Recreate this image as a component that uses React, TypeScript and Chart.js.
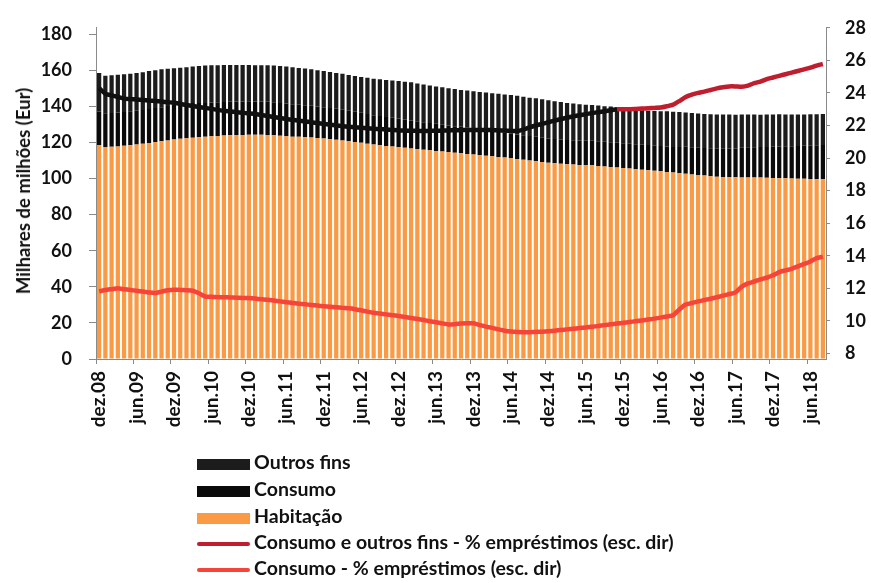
import React, { useEffect, useRef } from "react";
import { Chart, registerables } from "chart.js";

Chart.register(...registerables);

const categories: string[] = [
  "dez.08",
  "jan.09", "fev.09", "mar.09", "abr.09", "mai.09", "jun.09", "jul.09", "ago.09", "set.09", "out.09", "nov.09", "dez.09",
  "jan.10", "fev.10", "mar.10", "abr.10", "mai.10", "jun.10", "jul.10", "ago.10", "set.10", "out.10", "nov.10", "dez.10",
  "jan.11", "fev.11", "mar.11", "abr.11", "mai.11", "jun.11", "jul.11", "ago.11", "set.11", "out.11", "nov.11", "dez.11",
  "jan.12", "fev.12", "mar.12", "abr.12", "mai.12", "jun.12", "jul.12", "ago.12", "set.12", "out.12", "nov.12", "dez.12",
  "jan.13", "fev.13", "mar.13", "abr.13", "mai.13", "jun.13", "jul.13", "ago.13", "set.13", "out.13", "nov.13", "dez.13",
  "jan.14", "fev.14", "mar.14", "abr.14", "mai.14", "jun.14", "jul.14", "ago.14", "set.14", "out.14", "nov.14", "dez.14",
  "jan.15", "fev.15", "mar.15", "abr.15", "mai.15", "jun.15", "jul.15", "ago.15", "set.15", "out.15", "nov.15", "dez.15",
  "jan.16", "fev.16", "mar.16", "abr.16", "mai.16", "jun.16", "jul.16", "ago.16", "set.16", "out.16", "nov.16", "dez.16",
  "jan.17", "fev.17", "mar.17", "abr.17", "mai.17", "jun.17", "jul.17", "ago.17", "set.17", "out.17", "nov.17", "dez.17",
  "jan.18", "fev.18", "mar.18", "abr.18", "mai.18", "jun.18", "jul.18", "ago.18",
];

// Habitação (mil milhões EUR)
const habitacao: number[] = [
  118.4, 117.5, 117.6, 117.8, 118.1, 118.4, 118.8, 119.2, 119.7, 120.2,
  120.6, 121.1, 121.6, 122.0, 122.3, 122.6, 122.9, 123.2, 123.4, 123.6,
  123.8, 123.9, 124.1, 124.1, 124.2, 124.2, 124.2, 124.1, 123.9, 123.7,
  123.4, 123.2, 123.1, 122.9, 122.7, 122.4, 122.1, 121.8, 121.5, 121.1,
  120.6, 120.2, 119.8, 119.3, 118.8, 118.4, 118.0, 117.7, 117.3, 117.0,
  116.6, 116.3, 115.9, 115.6, 115.3, 115.0, 114.7, 114.3, 114.0, 113.6,
  113.3, 113.0, 112.6, 112.3, 111.9, 111.6, 111.2, 110.8, 110.4, 110.0,
  109.6, 109.2, 108.8, 108.5, 108.2, 107.9, 107.7, 107.5, 107.4, 107.3,
  107.0, 106.7, 106.4, 106.1, 105.8, 105.5, 105.2, 104.9, 104.6, 104.3,
  104.0, 103.6, 103.3, 102.9, 102.6, 102.2, 101.9, 101.6, 101.3, 101.0,
  100.9, 100.8, 100.7, 100.6, 100.6, 100.5, 100.5, 100.4, 100.3, 100.2,
  100.1, 100.0, 99.9, 99.8, 99.7, 99.6, 99.6,
];

// Consumo (mil milhões EUR)
const consumo: number[] = [
  18.7, 18.6, 18.7, 18.8, 18.8, 18.8, 18.8, 18.8, 18.8, 18.8,
  18.9, 19.1, 19.2, 19.2, 19.2, 19.2, 19.0, 18.7, 18.7, 18.7,
  18.6, 18.6, 18.6, 18.6, 18.6, 18.5, 18.4, 18.4, 18.3, 18.2,
  18.1, 17.9, 17.8, 17.7, 17.6, 17.5, 17.4, 17.3, 17.2, 17.0,
  16.9, 16.8, 16.6, 16.5, 16.3, 16.2, 16.1, 16.0, 15.9, 15.7,
  15.6, 15.4, 15.3, 15.1, 15.0, 14.8, 14.7, 14.7, 14.7, 14.7,
  14.6, 14.4, 14.2, 14.1, 13.9, 13.8, 13.7, 13.6, 13.5, 13.5,
  13.5, 13.4, 13.4, 13.4, 13.4, 13.5, 13.5, 13.5, 13.5, 13.6,
  13.6, 13.6, 13.7, 13.7, 13.7, 13.7, 13.8, 13.8, 13.9, 13.9,
  14.0, 14.1, 14.2, 14.6, 15.0, 15.1, 15.2, 15.3, 15.4, 15.5,
  15.6, 15.8, 15.9, 16.4, 16.7, 16.8, 17.0, 17.1, 17.3, 17.6,
  17.8, 17.9, 18.1, 18.3, 18.5, 18.8, 18.9,
];

const totalEmprestimos: number[] = [
  158.5, 157.0, 157.2, 157.5, 157.8, 158.0, 158.4, 158.9, 159.5, 160.0,
  160.5, 160.8, 161.1, 161.4, 161.7, 162.0, 162.3, 162.6, 162.8, 162.8,
  162.9, 162.9, 162.9, 162.9, 162.9, 162.8, 162.8, 162.7, 162.6, 162.3,
  162.0, 161.6, 161.2, 160.9, 160.5, 160.0, 159.5, 159.0, 158.5, 158.0,
  157.4, 156.8, 156.3, 155.8, 155.3, 155.0, 154.6, 154.3, 154.0, 153.6,
  153.3, 152.7, 152.1, 151.5, 151.0, 150.5, 150.0, 149.6, 149.1, 148.7,
  148.3, 147.9, 147.6, 147.3, 146.9, 146.6, 146.2, 145.8, 145.3, 144.8,
  144.4, 143.9, 143.3, 142.8, 142.4, 141.9, 141.5, 141.2, 140.9, 140.7,
  140.4, 140.1, 139.9, 139.3, 138.7, 138.2, 138.0, 137.8, 137.6, 137.4,
  137.3, 137.2, 137.0, 136.8, 136.6, 136.3, 136.0, 135.8, 135.6, 135.5,
  135.5, 135.4, 135.3, 135.4, 135.5, 135.4, 135.3, 135.4, 135.5, 135.6,
  135.5, 135.4, 135.4, 135.5, 135.6, 135.6, 135.7,
];

// Consumo e outros fins - % empréstimos (escala direita)
const consumoOutrosPct: number[] = [
  24.3, 23.95, 23.85, 23.75, 23.65, 23.62, 23.6, 23.57, 23.53, 23.5,
  23.47, 23.43, 23.4, 23.33, 23.26, 23.2, 23.14, 23.08, 23.02, 22.96,
  22.9, 22.86, 22.82, 22.78, 22.74, 22.7, 22.64, 22.58, 22.52, 22.46,
  22.4, 22.35, 22.3, 22.25, 22.2, 22.15, 22.1, 22.05, 22.0, 21.96,
  21.92, 21.89, 21.86, 21.83, 21.8, 21.78, 21.76, 21.73, 21.7, 21.69,
  21.68, 21.67, 21.67, 21.67, 21.68, 21.69, 21.7, 21.71, 21.72, 21.72,
  21.72, 21.72, 21.72, 21.72, 21.71, 21.69, 21.67, 21.66, 21.75, 21.88,
  22.0, 22.1, 22.2, 22.3, 22.4, 22.48, 22.56, 22.63, 22.7, 22.76,
  22.82, 22.88, 22.94, 23.0, 23.0, 23.0, 23.02, 23.04, 23.06, 23.08,
  23.1, 23.18, 23.28, 23.5, 23.75, 23.9, 24.0, 24.08, 24.18, 24.28,
  24.35, 24.4, 24.4, 24.38, 24.45, 24.6, 24.7, 24.85, 24.95, 25.05,
  25.15, 25.25, 25.35, 25.45, 25.55, 25.68, 25.78,
];

// Consumo - % empréstimos (escala direita)
const consumoPct: number[] = [
  11.82, 11.9, 11.95, 12.0, 11.95, 11.9, 11.85, 11.8, 11.75, 11.72,
  11.8, 11.88, 11.92, 11.9, 11.88, 11.85, 11.7, 11.5, 11.48, 11.46,
  11.45, 11.44, 11.42, 11.41, 11.4, 11.37, 11.33, 11.3, 11.25, 11.2,
  11.15, 11.1, 11.06, 11.02, 10.98, 10.94, 10.9, 10.87, 10.84, 10.8,
  10.77, 10.72, 10.65, 10.57, 10.5, 10.45, 10.4, 10.35, 10.3, 10.24,
  10.18, 10.12, 10.05, 9.98, 9.92, 9.85, 9.78, 9.8, 9.84, 9.86,
  9.85, 9.75, 9.65, 9.57, 9.48, 9.4, 9.35, 9.32, 9.31, 9.31,
  9.32, 9.34, 9.37, 9.4, 9.44, 9.48, 9.52, 9.56, 9.6, 9.64,
  9.69, 9.74, 9.79, 9.84, 9.88, 9.93, 9.98, 10.03, 10.08, 10.14,
  10.2, 10.27, 10.35, 10.7, 11.0, 11.1, 11.2, 11.28, 11.36, 11.45,
  11.55, 11.65, 11.75, 12.1, 12.3, 12.42, 12.55, 12.65, 12.8, 13.0,
  13.1, 13.2, 13.35, 13.5, 13.65, 13.85, 13.95,
];

const seriesNames = [
  "Outros fins",
  "Consumo",
  "Habitação",
  "Consumo e outros fins - % empréstimos (esc. dir)",
  "Consumo - % empréstimos (esc. dir)",
];

const leftTitle = "Milhares de milhões (Eur)";

const COLOR_OUTROS = "#1c1c1c";
const COLOR_CONSUMO = "#0a0a0a";
const COLOR_HAB = "#FA9A45";
const COLOR_LINE1 = "#BE1E2D";
const COLOR_LINE2 = "#F5443A";
const AXIS = "#8a8a8a";
const FONT = "Lato, 'Open Sans', sans-serif";

export default function App() {
  const ref = useRef<HTMLCanvasElement>(null);

  useEffect(() => {
    const canvas = ref.current;
    if (!canvas) return;
    const outrosFins = totalEmprestimos.map((t, i) =>
      Math.round((t - habitacao[i] - consumo[i]) * 100) / 100
    );
    const barCommon = {
      stack: "s",
      yAxisID: "y",
      order: 1,
      barPercentage: 0.68,
      categoryPercentage: 1,
      borderWidth: 0,
    };
    const chart = new Chart(canvas, {
      type: "bar",
      data: {
        labels: categories,
        datasets: [
          {
            type: "line",
            label: seriesNames[3],
            data: consumoOutrosPct,
            yAxisID: "y1",
            borderColor: COLOR_LINE1,
            backgroundColor: COLOR_LINE1,
            borderWidth: 4.5,
            pointRadius: 0,
            tension: 0.2,
            order: 0,
            segment: {
              // inside the dark bars the line reads as black in the reference
              borderColor: (ctx: any) => {
                const ch = ctx.chart;
                const i = ctx.p0DataIndex;
                const ys = ch.scales.y;
                const top0 = ys.getPixelForValue(totalEmprestimos[i]);
                const top1 = ys.getPixelForValue(totalEmprestimos[Math.min(i + 1, totalEmprestimos.length - 1)]);
                return ctx.p0.y > top0 + 1 && ctx.p1.y > top1 + 1 ? "#101010" : COLOR_LINE1;
              },
            },
          } as any,
          {
            type: "line",
            label: seriesNames[4],
            data: consumoPct,
            yAxisID: "y1",
            borderColor: COLOR_LINE2,
            backgroundColor: COLOR_LINE2,
            borderWidth: 4.5,
            pointRadius: 0,
            tension: 0.2,
            order: 0,
          } as any,
          { ...barCommon, label: seriesNames[2], data: habitacao, backgroundColor: COLOR_HAB } as any,
          { ...barCommon, label: seriesNames[1], data: consumo, backgroundColor: COLOR_CONSUMO } as any,
          { ...barCommon, label: seriesNames[0], data: outrosFins, backgroundColor: COLOR_OUTROS } as any,
        ],
      },
      options: {
        responsive: false,
        animation: false,
        layout: { padding: { top: 16, left: 0, right: 0, bottom: 0 } },
        plugins: { legend: { display: false }, tooltip: { enabled: false } },
        scales: {
          x: {
            stacked: true,
            offset: true,
            grid: {
              offset: true,
              drawOnChartArea: false,
              drawTicks: true,
              tickLength: 5,
              color: (c: any) => (c.index % 6 === 0 ? AXIS : "rgba(0,0,0,0)"),
            },
            border: { color: AXIS, width: 1 },
            ticks: {
              autoSkip: false,
              maxRotation: 90,
              minRotation: 90,
              padding: 7,
              color: "#111",
              font: { family: FONT, size: 19, weight: "bold" },
              callback: (_v: any, i: number) => (i % 6 === 0 ? categories[i] : ""),
            },
            afterFit: (s: any) => {
              s.height = 224;
            },
          },
          y: {
            stacked: true,
            position: "left",
            min: 0,
            max: 183.5,
            grid: { drawOnChartArea: false, tickLength: 7, color: AXIS },
            border: { color: AXIS, width: 1 },
            ticks: {
              stepSize: 20,
              includeBounds: false,
              padding: 17,
              color: "#111",
              font: { family: FONT, size: 18, weight: "bold" },
            },
            afterFit: (s: any) => {
              s.width = 96;
            },
          },
          y1: {
            position: "right",
            min: 7.66,
            max: 28,
            grid: { drawOnChartArea: false, tickLength: 4, color: AXIS },
            border: { color: AXIS, width: 1 },
            ticks: {
              stepSize: 2,
              includeBounds: false,
              padding: 15,
              color: "#111",
              font: { family: FONT, size: 18, weight: "bold" },
            },
            afterFit: (s: any) => {
              s.width = 45;
            },
          },
        },
      } as any,
    });
    return () => chart.destroy();
  }, []);

  const legend = [
    { label: seriesNames[0], color: COLOR_OUTROS, kind: "bar", cy: 463 },
    { label: seriesNames[1], color: COLOR_CONSUMO, kind: "bar", cy: 490 },
    { label: seriesNames[2], color: COLOR_HAB, kind: "bar", cy: 517 },
    { label: seriesNames[3], color: COLOR_LINE1, kind: "line", cy: 543 },
    { label: seriesNames[4], color: COLOR_LINE2, kind: "line", cy: 569 },
  ];

  return (
    <div
      style={{
        position: "absolute",
        left: 0,
        top: 0,
        width: 871,
        height: 583,
        background: "#fff",
        overflow: "hidden",
      }}
    >
      <canvas ref={ref} width={871} height={583} style={{ display: "block" }} />
      <div
        style={{
          position: "absolute",
          left: 23,
          top: 191,
          transform: "translate(-50%, -50%) rotate(-90deg)",
          fontFamily: FONT,
          fontSize: 18.5,
          fontWeight: 700,
          color: "#111",
          whiteSpace: "nowrap",
          lineHeight: "20px",
        }}
      >
        {leftTitle}
      </div>
      {legend.map((item) => {
        const h = item.kind === "bar" ? 11 : 4;
        return (
          <React.Fragment key={item.label}>
            <div
              style={{
                position: "absolute",
                left: 197,
                top: item.cy - h / 2 + 1,
                width: 53,
                height: h,
                background: item.color,
                borderRadius: item.kind === "line" ? 2 : 0,
              }}
            />
            <div
              style={{
                position: "absolute",
                left: 254,
                top: item.cy - 12,
                height: 22,
                lineHeight: "22px",
                fontFamily: FONT,
                fontSize: 19.5,
                fontWeight: 700,
                color: "#111",
                whiteSpace: "nowrap",
              }}
            >
              {item.label}
            </div>
          </React.Fragment>
        );
      })}
    </div>
  );
}
